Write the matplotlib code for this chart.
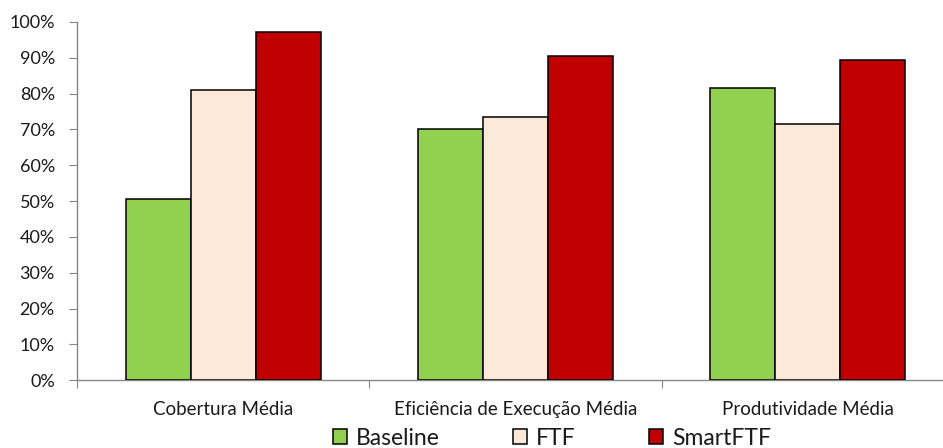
import matplotlib.pyplot as plt
import numpy as np

# Metric groups along the x axis
CATEGORIES = ["Cobertura Média", "Eficiência de Execução Média", "Produtividade Média"]

# Fraction values per approach (one entry per category)
BASELINE = [0.507, 0.702, 0.816]
FTF = [0.809, 0.734, 0.716]
SMART_FTF = [0.973, 0.905, 0.895]

SERIES_LABELS = ["Baseline", "FTF", "SmartFTF"]
SERIES_COLORS = ["#92D050", "#FDE9D9", "#C00000"]

Y_TICKS = [i / 10 for i in range(11)]
Y_TICK_LABELS = [f"{i * 10}%" for i in range(11)]

AXIS_GRAY = "#868686"
TEXT_COLOR = "#1a1a1a"

plt.rcParams["font.family"] = ["Lato", "DejaVu Sans"]

fig = plt.figure(figsize=(9.43, 4.48), dpi=100)
# axes run a little past the right border, so the last slot is cut off
ax = fig.add_axes([77 / 943, 67.7 / 448, 877 / 943, 358.3 / 448])

x = np.arange(len(CATEGORIES))
bar_w = 0.222
values = [BASELINE, FTF, SMART_FTF]
for i, (vals, lab, col) in enumerate(zip(values, SERIES_LABELS, SERIES_COLORS)):
    ax.bar(x + (i - 1) * bar_w, vals, width=bar_w, color=col,
           edgecolor="black", linewidth=1.1, label=lab, zorder=3)

ax.set_xlim(-0.5, len(CATEGORIES) - 0.5)
ax.set_ylim(0, 1)

ax.set_yticks(Y_TICKS)
ax.set_yticklabels(Y_TICK_LABELS)
ax.tick_params(axis="y", direction="out", length=6, width=0.8, color=AXIS_GRAY,
               pad=10, labelsize=13, labelcolor=TEXT_COLOR)

# category names centred, tick marks on the slot boundaries
ax.set_xticks(x)
ax.set_xticklabels(CATEGORIES)
ax.set_xticks(np.arange(-0.5, len(CATEGORIES), 1.0), minor=True)
ax.tick_params(axis="x", which="major", length=0, pad=15, labelsize=13.5,
               labelcolor=TEXT_COLOR)
ax.tick_params(axis="x", which="minor", direction="out", length=6, width=0.8,
               color=AXIS_GRAY)

for side in ("top", "right"):
    ax.spines[side].set_visible(False)
for side in ("left", "bottom"):
    ax.spines[side].set_color(AXIS_GRAY)
    ax.spines[side].set_linewidth(1.0)

fig.legend(loc="center", bbox_to_anchor=(552 / 943, 10 / 448), ncol=3,
           frameon=False, fontsize=16.5, handlelength=0.6, handleheight=0.6,
           handletextpad=0.4, columnspacing=3.2, borderpad=0,
           labelcolor=TEXT_COLOR)

fig.savefig("out.png", dpi=100)
